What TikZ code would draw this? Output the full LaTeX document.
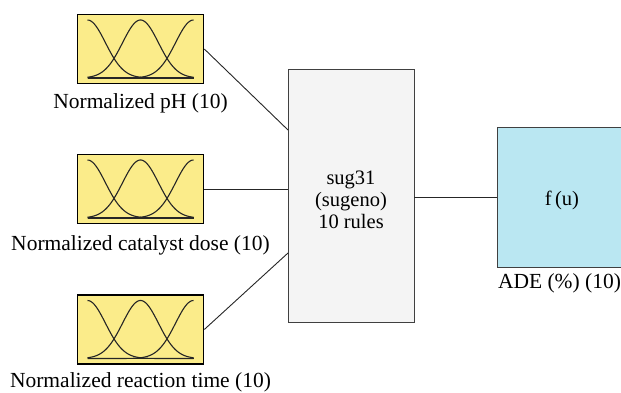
\documentclass[tikz,border=0pt]{standalone}
\usepackage{fontspec}
\setmainfont{Liberation Serif}
\usetikzlibrary{positioning}

\definecolor{mfyellow}{HTML}{FBEC8A}
\definecolor{rulegray}{HTML}{F4F4F4}
\definecolor{outcyan}{HTML}{BAE7F2}

\tikzset{
  inbox/.style={draw=black, line width=1.6pt, fill=mfyellow,
    minimum width=126pt, minimum height=69pt, inner sep=0pt},
  rulebox/.style={draw=black!75, line width=0.8pt, fill=rulegray,
    minimum width=126pt, minimum height=253pt},
  outbox/.style={draw=black!75, line width=0.8pt, fill=outcyan,
    minimum width=130pt, minimum height=140pt},
  boxtext/.style={align=center, font=\fontsize{20.5}{22}\selectfont},
  lbl/.style={font=\fontsize{21.5}{24}\selectfont, inner sep=1pt},
  link/.style={draw=black!85, line width=0.9pt},
  mf/.style={draw=black!85, line width=1.1pt}
}

\begin{document}
\begin{tikzpicture}[x=1pt, y=-1pt]
\useasboundingbox (0,0) rectangle (621,392);

% inputs
\node[inbox] (in1) at (140.5,49) {};
\node[inbox] (in2) at (140.5,189) {};
\node[inbox] (in3) at (140.5,329.5) {};
\node[lbl, below=8pt of in1] (lab1) {Normalized pH (10)};
\node[lbl, below=10pt of in2] (lab2) {Normalized catalyst dose (10)};
\node[lbl, below=7pt of in3] (lab3) {Normalized reaction time (10)};

% membership functions
\foreach \b in {in1,in2,in3} {
  \begin{scope}[shift={(\b.center)}]
    \foreach \c in {-53,0,53}
      \draw[mf, domain=-53:53, samples=80] plot (\x, {29-58*exp(-((\x-(\c))^2)/648)});
    \draw[mf] (-53,29) -- (53,29);
  \end{scope}
}

% rule block and output
\node[rulebox] (rule) at (351,195.5) {};
\node[boxtext] (ruletext) at ([yshift=-4pt]rule.center) {sug31\\(sugeno)\\10 rules};
\node[outbox] (out) at (562,197) {};
\node[boxtext] (outtext) at ([yshift=-3pt]out.center) {f\,(u)};
\node[lbl, below=5pt of out, xshift=-2.5pt] (lab4) {ADE (\%) (10)};

\coordinate (r1) at (288,130);
\coordinate (r3) at (288,253);
\draw[link] (in1.east) -- (r1);
\draw[link] (in2.east) -- (rule.west |- in2.east);
\draw[link] (in3.east) -- (r3);
\draw[link] (rule.east |- out.west) -- (out.west);
\end{tikzpicture}
\end{document}
